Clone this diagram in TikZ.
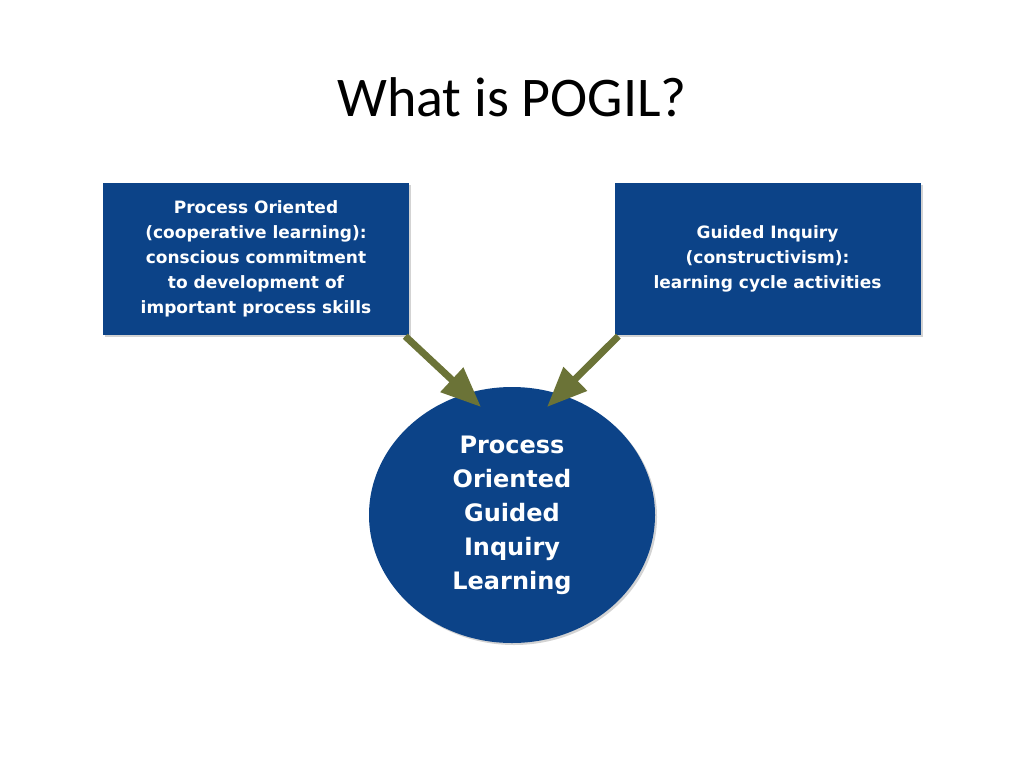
\documentclass[tikz,border=0pt]{standalone}
\usepackage{fontspec}
\setmainfont{Carlito}
\newfontfamily\boxfont{DejaVu Sans}
\usetikzlibrary{arrows.meta,shapes.geometric,shadows}
\definecolor{pblue}{HTML}{0C4388}
\definecolor{polive}{HTML}{6B7337}
\begin{document}
\begin{tikzpicture}[x=1pt,y=-1pt,
  bluebox/.style={fill=pblue,draw=none,minimum width=306pt,minimum height=152pt,text=white,
    font=\boxfont\bfseries\fontsize{17}{25}\selectfont,align=center,inner sep=0pt,
    drop shadow={shadow xshift=2pt,shadow yshift=-2pt,opacity=0.35}},
  garrow/.style={draw=polive,line width=7pt,-{Triangle[length=40pt,width=32pt]}}]
\useasboundingbox (0,0) rectangle (1024,768);
\node[font=\fontsize{56}{60}\selectfont] (title) at (512,97) {What is POGIL?};
\node[bluebox] (L) at (256,259) {Process Oriented\\(cooperative learning):\\conscious commitment\\to development of\\important process skills};
\node[bluebox] (R) at (767.5,259) {Guided Inquiry\\(constructivism):\\learning cycle activities};
\node[ellipse,fill=pblue,minimum width=286pt,minimum height=256pt,inner sep=0pt,text=white,
  font=\boxfont\bfseries\fontsize{24}{34}\selectfont,align=center,
  drop shadow={shadow xshift=2pt,shadow yshift=-2pt,opacity=0.35}] (C) at (512,515)
  {Process\\Oriented\\Guided\\Inquiry\\Learning};
\coordinate (lt) at (481,407);
\coordinate (rt) at (547,407);
\draw[garrow] ([xshift=-4pt,yshift=-1pt]L.south east) -- (lt);
\draw[garrow] ([xshift=4pt,yshift=-1pt]R.south west) -- (rt);
\end{tikzpicture}
\end{document}
